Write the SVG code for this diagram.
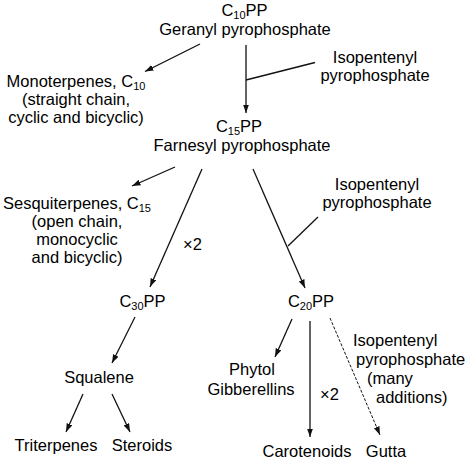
<svg xmlns="http://www.w3.org/2000/svg" width="467" height="461" viewBox="0 0 467 461">
<style>
text{font-family:"Liberation Sans",Arial,sans-serif;font-size:16.5px;fill:#000}
.m{text-anchor:middle}
.sub{font-size:11px}
.c{stroke:#111;stroke-width:1.3;fill:none}
.a{marker-end:url(#ah)}
.d{stroke-dasharray:3 1.6;stroke-width:1}
</style>
<defs>
<marker id="ah" markerUnits="userSpaceOnUse" markerWidth="9" markerHeight="7" refX="8.5" refY="3" orient="auto">
<path d="M0,0 L8.5,3 L0,6 z" fill="#111"/>
</marker>
</defs>
<rect width="467" height="461" fill="#fff"/>
<g id="connectors">
<line class="c a" x1="200" y1="44" x2="145" y2="71.5"/>
<line class="c a" x1="246" y1="45" x2="246" y2="113"/>
<line class="c" x1="315" y1="62.5" x2="246" y2="80"/>
<line class="c a" x1="175" y1="167" x2="132" y2="186"/>
<line class="c a" x1="202" y1="169" x2="150" y2="287"/>
<line class="c a" x1="253" y1="169" x2="305" y2="288"/>
<line class="c" x1="318" y1="217" x2="288" y2="246"/>
<line class="c a" x1="135" y1="317" x2="112" y2="363"/>
<line class="c a" x1="83" y1="394" x2="66" y2="432"/>
<line class="c a" x1="112" y1="394" x2="130" y2="432"/>
<line class="c a" x1="292" y1="319" x2="275" y2="357"/>
<line class="c a" x1="310" y1="321" x2="310" y2="437"/>
<line class="c a d" x1="330" y1="318" x2="380" y2="435"/>
</g>
<g id="geranyl">
<text class="m" x="244.5" y="16">C<tspan class="sub" dy="3">10</tspan><tspan dy="-3">PP</tspan></text>
<text class="m" x="245" y="35">Geranyl pyrophosphate</text>
</g>
<g id="monoterpenes">
<text class="m" x="76" y="87">Monoterpenes, C<tspan class="sub" dy="3">10</tspan></text>
<text class="m" x="76" y="105">(straight chain,</text>
<text class="m" x="76" y="123">cyclic and bicyclic)</text>
</g>
<g id="ipp1">
<text class="m" x="375" y="63">Isopentenyl</text>
<text class="m" x="375" y="81">pyrophosphate</text>
</g>
<g id="farnesyl">
<text class="m" x="239" y="132">C<tspan class="sub" dy="3">15</tspan><tspan dy="-3">PP</tspan></text>
<text class="m" x="242" y="151">Farnesyl pyrophosphate</text>
</g>
<g id="sesquiterpenes">
<text class="m" x="77" y="209">Sesquiterpenes, C<tspan class="sub" dy="3">15</tspan></text>
<text class="m" x="77" y="227">(open chain,</text>
<text class="m" x="77" y="245">monocyclic</text>
<text class="m" x="77" y="263">and bicyclic)</text>
</g>
<g id="x2a">
<text x="183" y="250">×2</text>
</g>
<g id="ipp2">
<text class="m" x="377" y="190">Isopentenyl</text>
<text class="m" x="377" y="208">pyrophosphate</text>
</g>
<g id="c30pp">
<text class="m" x="142.5" y="307">C<tspan class="sub" dy="3">30</tspan><tspan dy="-3">PP</tspan></text>
</g>
<g id="c20pp">
<text class="m" x="311" y="307">C<tspan class="sub" dy="3">20</tspan><tspan dy="-3">PP</tspan></text>
</g>
<g id="squalene">
<text class="m" x="99" y="383">Squalene</text>
</g>
<g id="triterpenes">
<text class="m" x="56" y="451">Triterpenes</text>
</g>
<g id="steroids">
<text class="m" x="142" y="451">Steroids</text>
</g>
<g id="phytol">
<text class="m" x="252" y="375">Phytol</text>
<text class="m" x="251" y="395">Gibberellins</text>
</g>
<g id="x2b">
<text x="320" y="400">×2</text>
</g>
<g id="ipp3">
<text x="353" y="346">Isopentenyl</text>
<text x="356" y="365">pyrophosphate</text>
<text x="367" y="384">(many</text>
<text x="376" y="403">additions)</text>
</g>
<g id="carotenoids">
<text class="m" x="307" y="457">Carotenoids</text>
</g>
<g id="gutta">
<text class="m" x="386" y="457">Gutta</text>
</g>
</svg>
